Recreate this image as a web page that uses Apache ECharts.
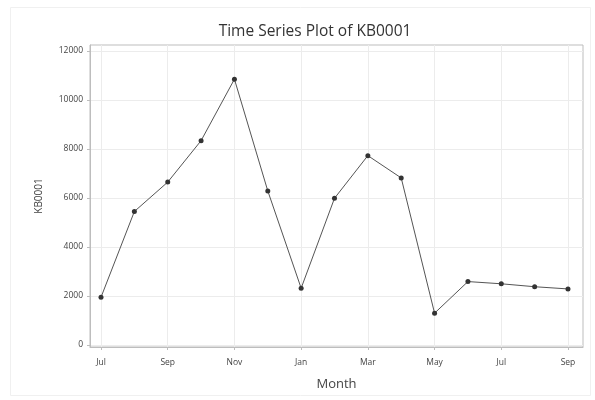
<!DOCTYPE html>
<html>
<head>
<meta charset="utf-8">
<script src="https://cdn.jsdelivr.net/npm/echarts@6/dist/echarts.min.js"></script>
<style>
  html, body { margin: 0; padding: 0; background: #fff; }
  #chart { width: 595px; height: 400px; }
</style>
</head>
<body>
<div id="chart"></div>
<script>
// Monthly observations, Jul through Sep of the following year
const months = ['Jul', 'Aug', 'Sep', 'Oct', 'Nov', 'Dec', 'Jan', 'Feb', 'Mar', 'Apr', 'May', 'Jun', 'Jul', 'Aug', 'Sep'];
const kb0001 = [1950, 5450, 6650, 8340, 10850, 6290, 2320, 5990, 7730, 6820, 1300, 2590, 2500, 2380, 2290];
// Every other month gets a tick and label
const tickIndices = [0, 2, 4, 6, 8, 10, 12, 14];
const yTicks = [0, 2000, 4000, 6000, 8000, 10000, 12000];

const chart = echarts.init(document.getElementById('chart'), null, { renderer: 'canvas' });

const font = '"Open Sans", "Noto Sans", sans-serif';

chart.setOption({
  backgroundColor: '#ffffff',
  animation: false,
  title: {
    text: 'Time Series Plot of KB0001',
    left: 310,
    top: 19,
    textAlign: 'center',
    textStyle: { fontFamily: font, fontSize: 15.5, fontWeight: 500, color: '#333' }
  },
  graphic: [{
    type: 'rect',
    shape: { x: 10.5, y: 7.5, width: 580, height: 388 },
    style: { fill: 'none', stroke: '#f0f0f0', lineWidth: 1 },
    silent: true
  }],
  grid: {
    left: 90, right: 12, top: 45, bottom: 53,
    show: true, borderColor: '#bdbdbd', borderWidth: 1
  },
  xAxis: {
    type: 'value',
    min: -0.33,
    max: 14.45,
    name: 'Month',
    nameLocation: 'middle',
    nameGap: 31,
    nameTextStyle: { fontFamily: font, fontSize: 13, color: '#444' },
    axisLine: { show: true, onZero: false, lineStyle: { color: '#bdbdbd' } },
    axisTick: { show: true, length: 3, customValues: tickIndices, lineStyle: { color: '#bdbdbd' } },
    axisLabel: {
      customValues: tickIndices,
      fontFamily: font, fontSize: 8.5, color: '#444', margin: 11,
      formatter: v => months[Math.round(v)]
    },
    splitLine: { show: true, lineStyle: { color: '#ececec' } }
  },
  yAxis: {
    type: 'value',
    min: -80,
    max: 12245,
    name: 'KB0001',
    nameLocation: 'middle',
    nameGap: 46,
    nameTextStyle: { fontFamily: font, fontSize: 10, color: '#444' },
    axisLine: { show: true, onZero: false, lineStyle: { color: '#bdbdbd' } },
    axisTick: { show: true, length: 3, customValues: yTicks, lineStyle: { color: '#bdbdbd' } },
    axisLabel: {
      customValues: yTicks,
      fontFamily: font, fontSize: 8.5, color: '#444', margin: 7,
      formatter: v => String(v)
    },
    splitLine: { show: true, lineStyle: { color: '#ececec' } }
  },
  series: [{
    type: 'line',
    data: kb0001.map((v, i) => [i, v]),
    symbol: 'circle',
    symbolSize: 5,
    itemStyle: { color: '#333' },
    lineStyle: { color: '#555', width: 1 }
  }]
});
</script>
</body>
</html>
